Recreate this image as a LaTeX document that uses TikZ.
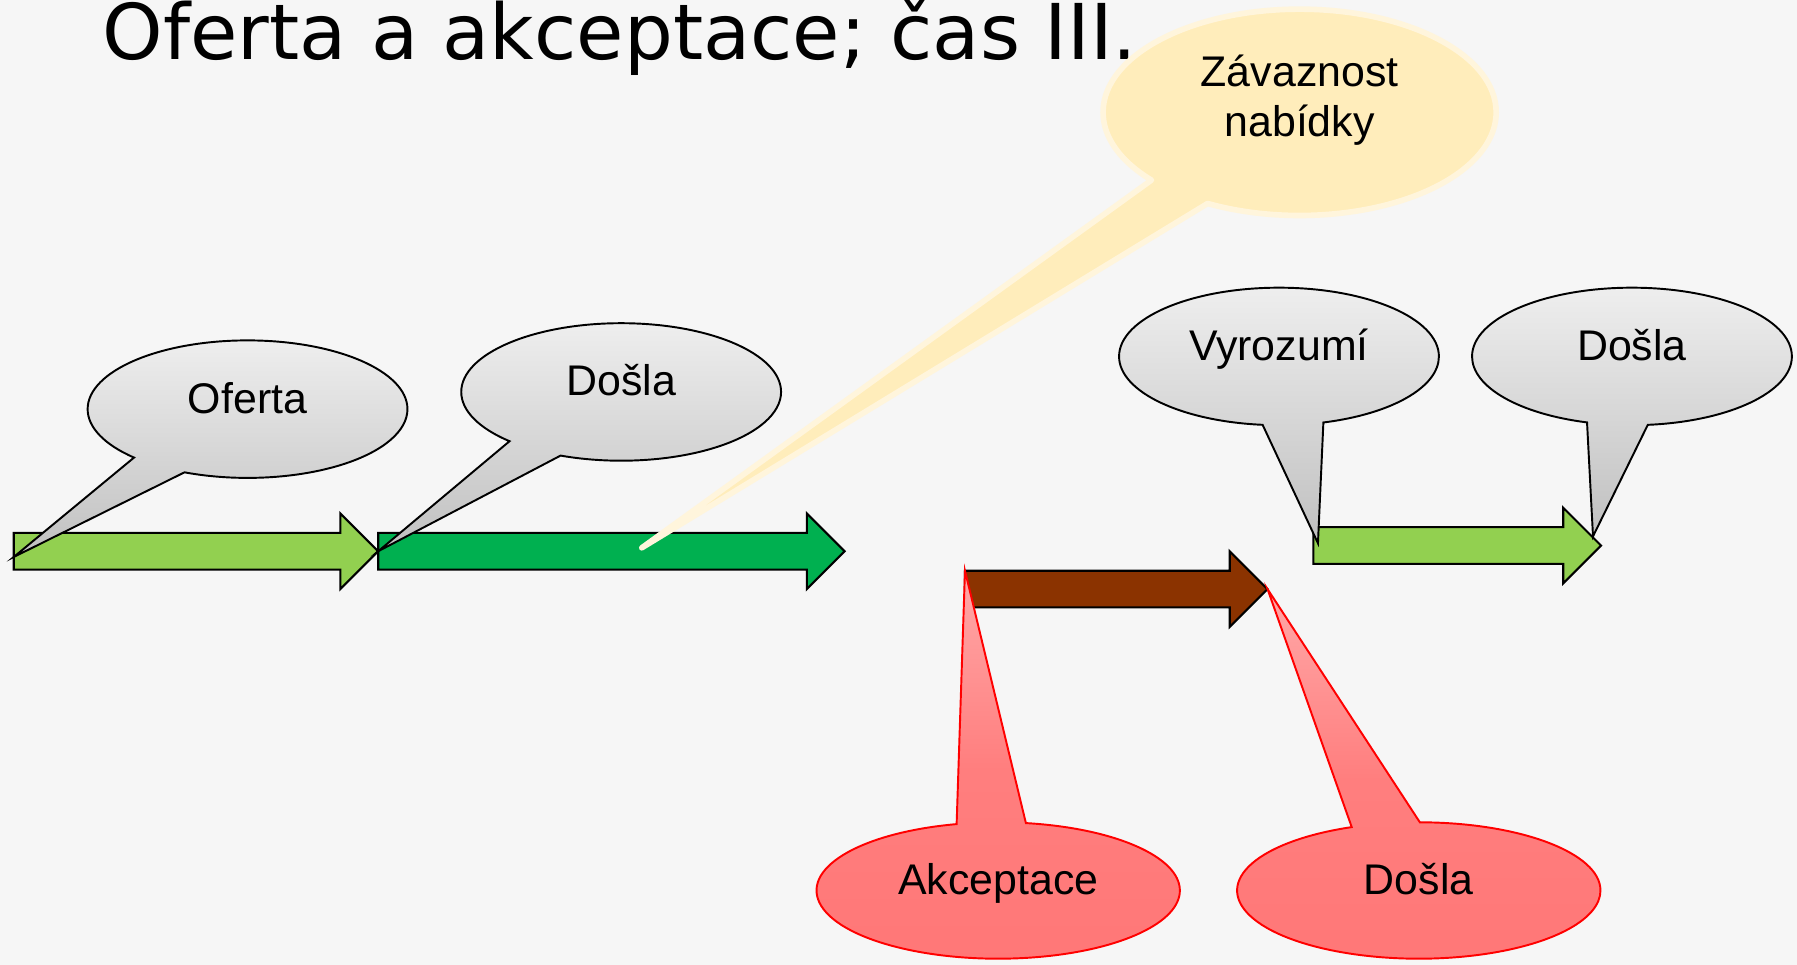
\documentclass[tikz,border=0pt]{standalone}
\usepackage{fontspec}
\setmainfont{Liberation Sans}
\newfontfamily\nadpisfont{DejaVu Sans}
\usepackage{tikz}
\usetikzlibrary{shapes.callouts}
\definecolor{pozadi}{HTML}{F6F6F6}
\definecolor{svetlezelena}{HTML}{92D050}
\definecolor{tmavezelena}{HTML}{00B050}
\definecolor{hneda}{HTML}{8B3300}
\definecolor{sedanahore}{HTML}{EEEEEE}
\definecolor{sedadole}{HTML}{C0C0C0}
\definecolor{zluta}{HTML}{FFEDBB}
\definecolor{zlutaokraj}{HTML}{FFF5DC}
\definecolor{ruzova}{HTML}{FFA8A8}
\definecolor{cervena}{HTML}{FF7777}
\tikzstyle{blok} = [draw=black, line width=0.6pt]
\tikzstyle{bublina} = [ellipse callout, callout pointer arc=22, draw=black, line width=0.55pt, top color=sedanahore, bottom color=sedadole, minimum width=3.198cm, minimum height=1.375cm, inner sep=0pt, text height=8.7pt, text depth=6.5pt, font=\fontsize{12.2pt}{14.3pt}\selectfont]
\tikzstyle{cervenabublina} = [bublina, draw=red, top color=ruzova, bottom color=cervena, middle color=cervena!85!ruzova, minimum width=3.633cm, minimum height=1.364cm]
\tikzstyle{zlutabublina} = [ellipse callout, callout pointer arc=21, fill=zluta, draw=zlutaokraj, line width=1.6pt, line join=round, minimum width=3.931cm, minimum height=2.063cm, inner sep=0pt, align=center, font=\fontsize{12.2pt}{14.3pt}\selectfont]
% sipka: nazev, x ocasu, y, x spicky, barva
\newcommand{\sipka}[5]{%
  \coordinate (#1tail) at (#2,#3);
  \coordinate (#1tip) at (#4,#3);
  \draw[blok, fill=#5] (#2,#3-16) -- (#4-33,#3-16) -- (#4-33,#3-33) -- (#4,#3) -- (#4-33,#3+33) -- (#4-33,#3+16) -- (#2,#3+16) -- cycle;
}

\begin{document}
\begin{tikzpicture}[x=0.011461cm, y=-0.011461cm]
%pozadi a nadpis
\fill[pozadi] (0,0) rectangle (1568,842);
\useasboundingbox (0,0) rectangle (1568,842);
\node[anchor=base west, inner sep=0pt, font=\nadpisfont\fontsize{21.9pt}{26pt}\selectfont] (nadpis) at (89,52) {Oferta a akceptace; čas III.};
%sipky
\sipka{a1}{12}{481}{330}{svetlezelena}
\sipka{a2}{330}{481}{737}{tmavezelena}
%hroty bublin
\coordinate (hrot1) at (12,486);
\coordinate (hrot3) at (560,478);
\coordinate (hrot4) at (1150,474);
\coordinate (hrot5) at (1390,468);
\coordinate (hrot6) at (842,498);
%bubliny nabidky
\node[bublina, callout absolute pointer=(hrot1)] (oferta) at (216,357) {Oferta};
\node[bublina, callout absolute pointer=(a1tip)] (dosla1) at (542,342) {Došla};
\node[zlutabublina, callout absolute pointer=(hrot3)] (zavaznost) at (1134,98) {Závaznost\\nabídky\\[-5pt]\mbox{}};
%akceptace
\sipka{a3}{842}{514}{1106}{hneda}
\sipka{a4}{1146}{476}{1397}{svetlezelena}
\node[bublina, callout absolute pointer=(hrot4)] (vyrozumi) at (1116,311) {Vyrozumí};
\node[bublina, callout absolute pointer=(hrot5)] (dosla2) at (1424,311) {Došla};
\node[cervenabublina, callout absolute pointer=(hrot6)] (akceptace) at (871,777) {Akceptace};
\node[cervenabublina, callout absolute pointer=(a3tip)] (dosla3) at (1238,777) {Došla};
\end{tikzpicture}
\end{document}
